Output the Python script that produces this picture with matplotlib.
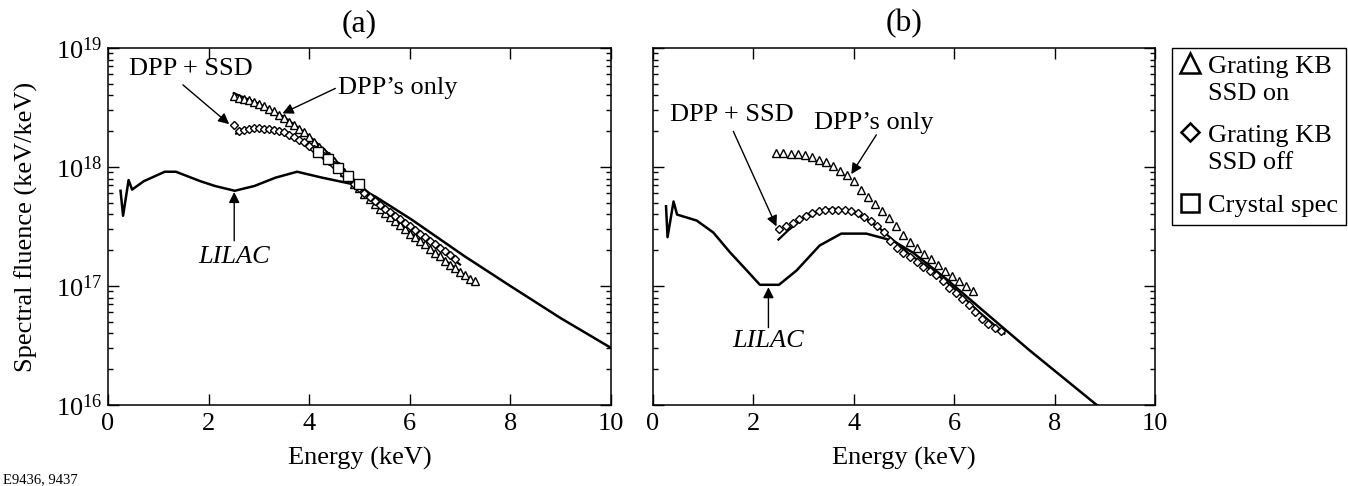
import numpy as np
import matplotlib
matplotlib.use("Agg")
import matplotlib.pyplot as plt
from matplotlib.lines import Line2D
from matplotlib.legend_handler import HandlerLine2D
from matplotlib.ticker import LogLocator, NullFormatter

plt.rcParams['font.family'] = ['Liberation Serif', 'DejaVu Serif']
plt.rcParams['mathtext.fontset'] = 'custom'
plt.rcParams['mathtext.rm'] = 'Liberation Serif'
plt.rcParams['mathtext.it'] = 'Liberation Serif:italic'
plt.rcParams['font.size'] = 19

# ---------------- panel (a) data (log10 of spectral fluence) ----------------
lilac_a_e = [0.25, 0.30, 0.41, 0.48, 0.71, 1.13, 1.35, 1.84, 2.13, 2.52, 2.91, 3.33,
             3.76, 4.26, 4.82, 5.32, 6.03, 7.09, 8.0, 9.0, 10.0]
lilac_a_log = [17.80, 17.59, 17.89, 17.81, 17.88, 17.96, 17.96, 17.88, 17.84, 17.80, 17.84, 17.91,
               17.96, 17.91, 17.86, 17.75, 17.56, 17.25, 17.00, 16.73, 16.48]

tri_a_e = [2.5, 2.6, 2.7, 2.8, 2.9, 3.0, 3.1, 3.2, 3.3, 3.4, 3.5, 3.6, 3.7, 3.8, 3.9, 4.0,
           4.1, 4.2, 4.3, 4.4, 4.5, 4.6, 4.7, 4.8, 4.9, 5.0, 5.1, 5.2, 5.3, 5.4, 5.5, 5.6,
           5.7, 5.8, 5.9, 6.0, 6.1, 6.2, 6.3, 6.4, 6.5, 6.6, 6.7, 6.8, 6.9, 7.0, 7.1, 7.2, 7.3]
tri_a_log = [18.60, 18.58, 18.57, 18.56, 18.55, 18.53, 18.51, 18.49, 18.47, 18.44, 18.41, 18.38,
             18.35, 18.32, 18.29, 18.25, 18.21, 18.17, 18.13, 18.09, 18.05, 18.01, 17.96, 17.91,
             17.86, 17.82, 17.77, 17.73, 17.69, 17.65, 17.61, 17.58, 17.55, 17.51, 17.48, 17.44,
             17.41, 17.38, 17.35, 17.31, 17.28, 17.25, 17.21, 17.18, 17.15, 17.12, 17.09, 17.06, 17.04]

dia_a_e = [2.5, 2.6, 2.7, 2.8, 2.9, 3.0, 3.1, 3.2, 3.3, 3.4, 3.5, 3.6, 3.7, 3.8, 3.9, 4.0,
           4.1, 4.2, 4.3, 4.4, 4.5, 4.6, 4.7, 4.8, 4.9, 5.0, 5.1, 5.2, 5.3, 5.4, 5.5, 5.6,
           5.7, 5.8, 5.9, 6.0, 6.1, 6.2, 6.3, 6.4, 6.5, 6.6, 6.7, 6.8, 6.9]
dia_a_log = [18.35, 18.30, 18.31, 18.32, 18.33, 18.33, 18.32, 18.32, 18.31, 18.30, 18.29, 18.27,
             18.25, 18.23, 18.21, 18.18, 18.15, 18.12, 18.09, 18.05, 18.02, 17.98, 17.94, 17.90,
             17.86, 17.82, 17.78, 17.75, 17.71, 17.68, 17.65, 17.62, 17.59, 17.56, 17.53, 17.50,
             17.47, 17.44, 17.41, 17.38, 17.35, 17.32, 17.29, 17.26, 17.23]

sq_a_e = [4.17, 4.38, 4.58, 4.78, 4.99]
sq_a_log = [18.13, 18.07, 17.99, 17.92, 17.86]

fit_tri_a_e = [2.5, 3.0, 3.5, 4.0, 4.5, 5.0, 5.5, 6.0, 6.5, 7.0, 7.3]
fit_tri_a_log = [18.62, 18.53, 18.42, 18.26, 18.07, 17.83, 17.63, 17.45, 17.28, 17.12, 17.01]
fit_dia_a_e = [2.55, 2.8, 3.1, 3.5, 4.0, 4.5, 5.0, 5.5, 6.0, 6.5, 7.0]
fit_dia_a_log = [18.28, 18.32, 18.33, 18.30, 18.20, 18.05, 17.85, 17.67, 17.50, 17.34, 17.18]

# ---------------- panel (b) data ----------------
lilac_b_e = [0.26, 0.29, 0.41, 0.48, 0.87, 1.2, 1.54, 1.87, 2.13, 2.51, 2.86, 3.32,
             3.75, 4.25, 4.78, 5.18, 5.84, 6.5, 7.5, 8.84]
lilac_b_log = [17.67, 17.41, 17.71, 17.60, 17.55, 17.45, 17.28, 17.13, 17.01, 17.01, 17.13, 17.34,
               17.44, 17.44, 17.38, 17.28, 17.06, 16.82, 16.46, 16.00]

tri_b_e = [2.46, 2.60, 2.74, 2.88, 3.02, 3.16, 3.30, 3.44, 3.58, 3.72, 3.86, 4.00, 4.14, 4.28,
           4.42, 4.56, 4.70, 4.84, 4.98, 5.12, 5.26, 5.40, 5.54, 5.68, 5.82, 5.96, 6.10, 6.24, 6.38]
tri_b_log = [18.12, 18.12, 18.11, 18.11, 18.10, 18.08, 18.06, 18.04, 18.01, 17.97, 17.93, 17.88,
             17.81, 17.75, 17.69, 17.63, 17.57, 17.50, 17.43, 17.37, 17.32, 17.27, 17.23, 17.18,
             17.13, 17.08, 17.04, 17.00, 16.96]

dia_b_e = [2.52, 2.65, 2.78, 2.91, 3.04, 3.17, 3.30, 3.43, 3.56, 3.69, 3.82, 3.95, 4.08, 4.21,
           4.34, 4.47, 4.60, 4.73, 4.86, 4.99, 5.12, 5.25, 5.38, 5.51, 5.64, 5.77, 5.90, 6.03,
           6.16, 6.29, 6.42, 6.55, 6.68, 6.81, 6.94]
dia_b_log = [17.48, 17.50, 17.53, 17.56, 17.59, 17.61, 17.63, 17.64, 17.64, 17.64, 17.64, 17.63,
             17.61, 17.58, 17.55, 17.50, 17.45, 17.38, 17.32, 17.28, 17.24, 17.20, 17.16, 17.13,
             17.09, 17.04, 16.98, 16.94, 16.89, 16.84, 16.78, 16.72, 16.68, 16.65, 16.62]

fit_dia_b_e = [2.5, 2.7, 3.0, 3.3, 3.6, 3.9, 4.2, 4.5, 4.8, 5.1, 5.5, 6.0, 6.5, 7.0]
fit_dia_b_log = [17.39, 17.47, 17.57, 17.63, 17.65, 17.63, 17.58, 17.49, 17.38, 17.27, 17.15, 16.98, 16.78, 16.60]

legend_labels = ['Grating KB\nSSD on', 'Grating KB\nSSD off', 'Crystal spec']


def p(v):
    return 10.0 ** np.array(v)


class TopHandler(HandlerLine2D):
    # put the marker beside the first line of a two-line label
    def __init__(self, shift, **kw):
        super().__init__(**kw)
        self.shift = shift

    def create_artists(self, legend, orig_handle, xdescent, ydescent, width, height, fontsize, trans):
        arts = super().create_artists(legend, orig_handle, xdescent, ydescent, width, height, fontsize, trans)
        for a in arts:
            a.set_ydata(np.asarray(a.get_ydata()) + self.shift * fontsize)
        return arts


fig = plt.figure(figsize=(13.48, 4.86), dpi=100)
ax1 = fig.add_axes([0.0801, 0.1667, 0.3731, 0.7346])
ax2 = fig.add_axes([0.4844, 0.1667, 0.3724, 0.7346])

mk = dict(ls='none', mfc='white', mec='black', mew=1.0)

for ax in (ax1, ax2):
    ax.set_yscale('log')
    ax.set_xlim(0, 10)
    ax.set_ylim(1e16, 1e19)
    ax.set_xticks([0, 2, 4, 6, 8, 10])
    ax.yaxis.set_major_locator(LogLocator(base=10, numticks=10))
    ax.yaxis.set_minor_locator(LogLocator(base=10, subs=np.arange(2, 10), numticks=20))
    ax.yaxis.set_minor_formatter(NullFormatter())
    ax.tick_params(which='both', direction='in', top=True, right=True, width=1.0)
    ax.tick_params(which='major', length=8)
    ax.tick_params(which='minor', length=3.5)
    ax.tick_params(axis='x', pad=6)
    ax.tick_params(axis='y', pad=4)
    for s in ax.spines.values():
        s.set_linewidth(1.1)
    ax.set_xlabel('Energy (keV)', labelpad=8)

# panel (a)
ax1.plot(lilac_a_e, p(lilac_a_log), color='black', lw=1.8)
ax1.plot(fit_tri_a_e, p(fit_tri_a_log), color='black', lw=1.6)
ax1.plot(fit_dia_a_e, p(fit_dia_a_log), color='black', lw=1.6)
ax1.plot(tri_a_e, p(tri_a_log), marker='^', ms=6, **mk)
ax1.plot(dia_a_e, p(dia_a_log), marker='D', ms=4.2, **mk)
ax1.plot(sq_a_e, p(sq_a_log), marker='s', ms=7, **mk)
ax1.set_ylabel('Spectral fluence (keV/keV)', labelpad=13)
ax1.set_title('(a)', pad=12)

arr = dict(arrowstyle='-|>', color='black', lw=1.0, mutation_scale=16, shrinkA=0, shrinkB=0)
ax1.text(1.65, 10**18.82, 'DPP + SSD', ha='center', va='center')
ax1.annotate('', xy=(2.41, 10**18.36), xytext=(1.49, 10**18.69), arrowprops=arr)
ax1.text(4.57, 10**18.66, 'DPP\u2019s only', ha='left', va='center')
ax1.annotate('', xy=(3.47, 10**18.45), xytext=(4.52, 10**18.66), arrowprops=arr)
ax1.text(2.51, 10**17.24, 'LILAC', ha='center', va='center', style='italic')
ax1.annotate('', xy=(2.51, 10**17.79), xytext=(2.51, 10**17.38), arrowprops=arr)

# panel (b)
ax2.plot(lilac_b_e, p(lilac_b_log), color='black', lw=1.8)
ax2.plot(fit_dia_b_e, p(fit_dia_b_log), color='black', lw=1.6)
ax2.plot(tri_b_e, p(tri_b_log), marker='^', ms=6, **mk)
ax2.plot(dia_b_e, p(dia_b_log), marker='D', ms=4.2, **mk)
ax2.tick_params(axis='y', labelleft=False)
ax2.set_title('(b)', pad=12)

ax2.text(1.57, 10**18.44, 'DPP + SSD', ha='center', va='center')
ax2.annotate('', xy=(2.46, 10**17.50), xytext=(1.60, 10**18.30), arrowprops=arr)
ax2.text(4.40, 10**18.37, 'DPP\u2019s only', ha='center', va='center')
ax2.annotate('', xy=(3.95, 10**17.94), xytext=(4.45, 10**18.27), arrowprops=arr)
ax2.text(2.30, 10**16.54, 'LILAC', ha='center', va='center', style='italic')
ax2.annotate('', xy=(2.30, 10**16.99), xytext=(2.30, 10**16.65), arrowprops=arr)

h_tri = Line2D([], [], marker='^', ms=14, ls='none', mfc='white', mec='black', mew=1.8)
h_dia = Line2D([], [], marker='D', ms=9.5, ls='none', mfc='white', mec='black', mew=1.8)
h_sq = Line2D([], [], marker='s', ms=12.5, ls='none', mfc='white', mec='black', mew=1.8)
leg = fig.legend([h_tri, h_dia, h_sq], legend_labels, loc='upper left',
                 bbox_to_anchor=(0.8694, 0.9012), borderaxespad=0, fancybox=False,
                 edgecolor='black', framealpha=1, handlelength=0.8, handletextpad=0.25,
                 borderpad=0.3, labelspacing=0.75, fontsize=19,
                 handler_map={h_tri: TopHandler(0.62), h_dia: TopHandler(0.62)})
leg.get_frame().set_linewidth(1.0)
for t in leg.get_texts():
    t.set_linespacing(1.3)

fig.text(0.002, 0.006, 'E9436, 9437', fontsize=10.5)

plt.savefig('out.png', dpi=100)
